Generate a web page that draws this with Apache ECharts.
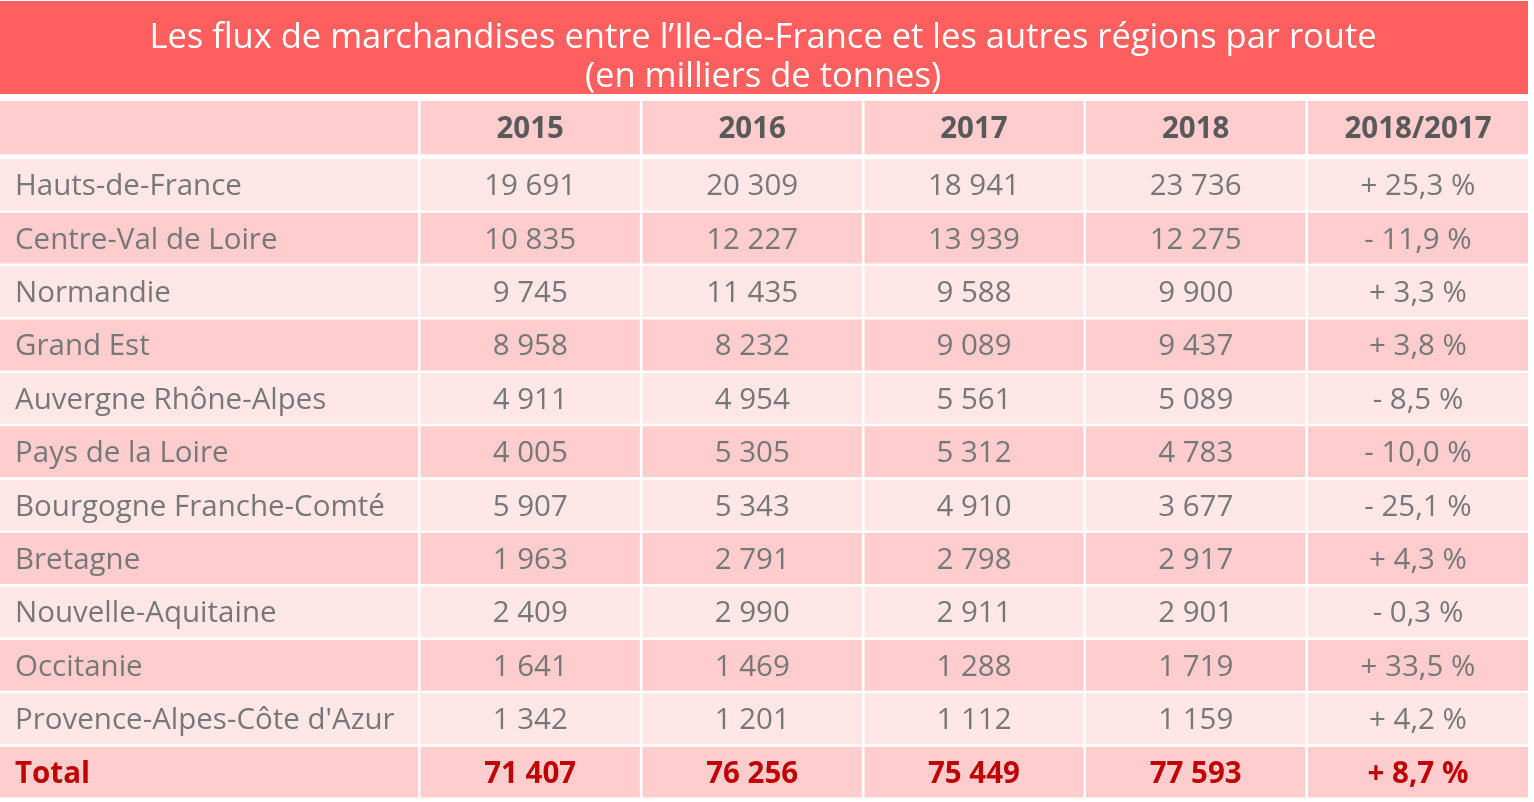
<!DOCTYPE html>
<html><head><meta charset="utf-8">
<script src="https://cdn.jsdelivr.net/npm/echarts@6/dist/echarts.min.js"></script>
<style>html,body{margin:0;padding:0;background:#fff}#c{width:1534px;height:802px}</style>
</head><body><div id="c"></div>
<script>
const titleLines = ["Les flux de marchandises entre l\u2019Ile-de-France et les autres régions par route", "(en milliers de tonnes)"];
const columns = ["", "2015", "2016", "2017", "2018", "2018/2017"];
const regions = ["Hauts-de-France", "Centre-Val de Loire", "Normandie", "Grand Est", "Auvergne Rhône-Alpes", "Pays de la Loire", "Bourgogne Franche-Comté", "Bretagne", "Nouvelle-Aquitaine", "Occitanie", "Provence-Alpes-Côte d'Azur"];
const v2015 = [19691, 10835, 9745, 8958, 4911, 4005, 5907, 1963, 2409, 1641, 1342];
const v2016 = [20309, 12227, 11435, 8232, 4954, 5305, 5343, 2791, 2990, 1469, 1201];
const v2017 = [18941, 13939, 9588, 9089, 5561, 5312, 4910, 2798, 2911, 1288, 1112];
const v2018 = [23736, 12275, 9900, 9437, 5089, 4783, 3677, 2917, 2901, 1719, 1159];
const change = [25.3, -11.9, 3.3, 3.8, -8.5, -10.0, -25.1, 4.3, -0.3, 33.5, 4.2];
const totalLabel = "Total";
const totals = [71407, 76256, 75449, 77593];
const totalChange = 8.7;

// layout (not data)
const colEdges = [0, 420.5, 642.5, 864.5, 1086, 1308, 1528];
const fmtN = n => String(n).replace(/\B(?=(\d{3})+(?!\d))/g, ' ');
const fmtP = p => (p >= 0 ? '+ ' : '- ') + Math.abs(p).toFixed(1).replace('.', ',') + ' %';

const rowNames = ['header'].concat(regions, [totalLabel]);
const cells = [];
columns.forEach((c, ci) => cells.push([ci, 0, c, 'header']));
regions.forEach((r, i) => {
  const row = i + 1, kind = (i % 2 === 0) ? 'light' : 'dark';
  cells.push([0, row, r, kind]);
  cells.push([1, row, fmtN(v2015[i]), kind]);
  cells.push([2, row, fmtN(v2016[i]), kind]);
  cells.push([3, row, fmtN(v2017[i]), kind]);
  cells.push([4, row, fmtN(v2018[i]), kind]);
  cells.push([5, row, fmtP(change[i]), kind]);
});
const tRow = regions.length + 1;
cells.push([0, tRow, totalLabel, 'total']);
totals.forEach((t, i) => cells.push([i + 1, tRow, fmtN(t), 'total']));
cells.push([5, tRow, fmtP(totalChange), 'total']);

const fills = {header: '#FFCDCD', light: '#FFE7E7', dark: '#FFCDCD', total: '#FFCDCD'};
const textColor = {header: '#595959', light: '#777777', dark: '#777777', total: '#C00000'};
const FONT = '"Open Sans", sans-serif';

const chart = echarts.init(document.getElementById('c'), null, {renderer: 'canvas'});
chart.setOption({
  backgroundColor: '#ffffff',
  animation: false,
  graphic: [
    {type: 'rect', x: 0, y: 1, shape: {width: 1528, height: 93}, style: {fill: '#FF5F5F'}},
    {type: 'text', x: 763, y: 38, style: {text: titleLines[0], fill: '#ffffff', align: 'center', verticalAlign: 'middle', font: '34.5px "Open Sans", sans-serif'}, z: 10},
    {type: 'text', x: 763, y: 77, style: {text: titleLines[1], fill: '#ffffff', align: 'center', verticalAlign: 'middle', font: '34.5px "Open Sans", sans-serif'}, z: 10}
  ],
  grid: {left: 0, top: 105.9, width: 1528, height: 694.2, containLabel: false},
  xAxis: {type: 'value', min: 0, max: 1528, show: false},
  yAxis: {type: 'category', data: rowNames, inverse: true, show: false},
  series: [{
    type: 'custom',
    data: cells,
    encode: {x: 0, y: 1},
    renderItem: function (params, api) {
      const ci = api.value(0), ri = api.value(1);
      const d = cells[params.dataIndex];
      const kind = d[3];
      const bandH = api.size([0, 1])[1];
      const yC = api.coord([0, ri])[1];
      const x0 = api.coord([colEdges[ci], ri])[0];
      const x1 = api.coord([colEdges[ci + 1], ri])[0];
      const gapR = ci < 5 ? 2.6 : 0;
      let top = yC - bandH / 2, h = bandH - 2.5;
      if (kind === 'header') { top -= 4.9; h += 2.3; }
      const bold = kind === 'header' || kind === 'total';
      const left = ci === 0;
      return {
        type: 'group',
        children: [
          {type: 'rect', shape: {x: x0, y: top, width: x1 - x0 - gapR, height: h}, style: {fill: fills[kind]}},
          {type: 'text', x: left ? x0 + 15 : (x0 + x1 - gapR) / 2, y: top + h / 2 + 2,
           style: {text: d[2], fill: textColor[kind], align: left ? 'left' : 'center', verticalAlign: 'middle',
                   font: (bold ? 'bold ' : '') + '29.5px ' + FONT}}
        ]
      };
    }
  }]
});
</script></body></html>
